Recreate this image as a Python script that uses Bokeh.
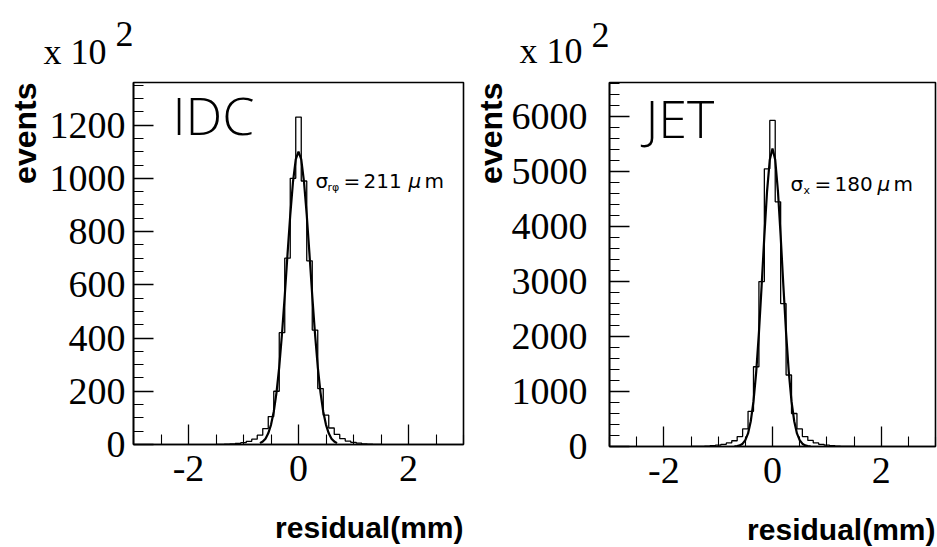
from bokeh.plotting import figure
from bokeh.layouts import row
from bokeh.models import Range1d, FixedTicker, Label, Title
from bokeh.embed import file_html
from bokeh.resources import INLINE

# ---------------- data ----------------
bin_centers = [-1.5, -1.4, -1.3, -1.2, -1.1, -1.0, -0.9, -0.8, -0.7, -0.6, -0.5,
               -0.4, -0.3, -0.2, -0.1, 0.0, 0.1, 0.2, 0.3, 0.4, 0.5,
               0.6, 0.7, 0.8, 0.9, 1.0, 1.1, 1.2, 1.3, 1.4, 1.5]
idc_counts = [0, 0, 1, 2, 4, 7, 12, 20, 35, 60, 105,
              200, 420, 700, 1000, 1230, 990, 690, 430, 210, 110,
              62, 38, 22, 13, 8, 5, 2, 1, 0, 0]
jet_counts = [0, 0, 3, 8, 15, 25, 40, 65, 105, 180, 320,
              640, 1450, 3000, 5050, 5930, 4450, 2600, 1300, 600, 320,
              180, 110, 65, 40, 25, 15, 8, 3, 0, 0]

fit_x = [-0.7, -0.65, -0.6, -0.55, -0.5, -0.45, -0.4, -0.35, -0.3, -0.25, -0.2,
         -0.15, -0.1, -0.05, 0.0, 0.05, 0.1, 0.15, 0.2, 0.25, 0.3, 0.35, 0.4,
         0.45, 0.5, 0.55, 0.6, 0.65, 0.7]
idc_fit = [5, 11, 22, 42, 74, 123, 195, 292, 416, 559, 714, 862, 987, 1071, 1100,
           1071, 987, 862, 714, 559, 416, 292, 195, 123, 74, 42, 22, 11, 5]
jet_fit = [3, 8, 21, 51, 115, 238, 459, 819, 1352, 2066, 2924, 3830, 4646, 5215, 5420,
           5215, 4646, 3830, 2924, 2066, 1352, 819, 459, 238, 115, 51, 21, 8, 3]

x_major = [-2, 0, 2]
x_minor = [-3, -2.5, -1.5, -1, -0.5, 0.5, 1, 1.5, 2.5, 3]
idc_y_major = [0, 200, 400, 600, 800, 1000, 1200]
idc_y_minor = list(range(0, 1400, 50))
jet_y_major = [0, 1000, 2000, 3000, 4000, 5000, 6000]
jet_y_minor = list(range(0, 6700, 200))

detector_names = ["IDC", "JET"]
sigma_subscripts = ["r\u03c6", "x"]
sigma_values = ["211", "180"]
x_title = "residual(mm)"
y_title = "events"
scale_text = "x 10"
scale_exp = "2"

SERIF = "Liberation Serif"
SANS = "Liberation Sans"
NOTE = "DejaVu Sans"
THIN = "'Open Sans Light', 'Inter Light', 'Noto Sans Light', 'Lato Hairline', Lato"


def make_panel(offset, fl, fw, ft, fh, ymax, y_major, y_minor, counts, fit,
               y_standoff, name, sub, sval, pos):
    x0, x1 = -3.0, 3.0
    y0, y1 = 0.0, ymax
    p = figure(output_backend="svg", toolbar_location=None,
               x_range=Range1d(x0, x1), y_range=Range1d(y0, y1),
               frame_width=fw, frame_height=fh,
               min_border_left=fl, min_border_right=pos["right"],
               min_border_top=ft, min_border_bottom=547 - ft - fh)
    p.grid.visible = False
    p.background_fill_color = "white"
    p.border_fill_color = "white"
    p.outline_line_color = "black"
    p.outline_line_width = 1.6

    for ax in (p.xaxis[0], p.yaxis[0]):
        ax.axis_line_color = "black"
        ax.axis_line_width = 1.6
        ax.major_tick_in = 20
        ax.major_tick_out = 0
        ax.minor_tick_in = 10
        ax.minor_tick_out = 0
        ax.major_tick_line_width = 1.3
        ax.minor_tick_line_width = 1.1
        ax.major_tick_line_color = "black"
        ax.minor_tick_line_color = "black"
        ax.major_label_text_font = SERIF
        ax.major_label_text_font_size = "38px"
        ax.major_label_text_color = "black"

    p.xaxis[0].ticker = FixedTicker(ticks=x_major, minor_ticks=x_minor)
    p.xaxis[0].major_label_overrides = {-2: "-2", 0: "0", 2: "2"}
    p.yaxis[0].ticker = FixedTicker(ticks=y_major, minor_ticks=y_minor)
    p.xaxis[0].major_label_standoff = 11
    p.yaxis[0].major_label_standoff = y_standoff

    p.step(bin_centers, counts, mode="center", line_color="black", line_width=1.3)
    p.line(fit_x, fit, line_color="black", line_width=2.2)

    # scale factor "x 10^2" above the frame (exponent on a raised first line)
    t = p.title
    t.text = "\u00a0" * 8 + scale_exp + "\n" + scale_text
    t.align = "left"
    t.offset = pos["scale_off"]
    t.text_font = SERIF
    t.text_font_size = "36px"
    t.text_font_style = "normal"
    t.text_color = "black"
    t.text_line_height = pos["scale_lh"]
    t.standoff = pos["scale_standoff"]

    # axis titles
    p.add_layout(Title(text=y_title, align="right", text_font=SANS, text_font_size="32px",
                       text_font_style="bold", text_color="black",
                       standoff=pos["ytitle_standoff"]), "left")
    # small blank gap between the tick labels and the x title
    p.add_layout(Title(text="\u00a0", text_font=SANS, text_font_size="21px",
                       text_color="white", standoff=0), "below")
    p.add_layout(Title(text=x_title, align="right", text_font=SANS, text_font_size="30px",
                       text_font_style="bold", text_color="black", standoff=0), "below")

    fb = ft + fh

    def D(X, Y):
        x = x0 + (X - offset - fl) / fw * (x1 - x0)
        y = y0 + (fb - Y) / fh * (y1 - y0)
        return x, y

    def lab(text, X, Y, font, size, style="normal"):
        x, y = D(X, Y)
        p.add_layout(Label(x=x, y=y, x_units="data", y_units="data", text=text,
                           text_font=font, text_font_size=size, text_font_style=style,
                           text_align="left", text_baseline="alphabetic",
                           text_color="black"))

    lab(name, pos["nx"], 114, THIN, "52px")
    lab("\u03c3", pos["s0"], 180, NOTE, "20px")
    lab(sub, pos["s1"], 187, NOTE, "11px")
    lab("=", pos["s2"], 180, NOTE, "20px")
    lab(sval, pos["s3"], 180, NOTE, "20px")
    lab("\u00b5", pos["s4"], 180, NOTE, "20px", style="italic")
    lab("m", pos["s5"], 180, NOTE, "20px")
    return p


p1 = make_panel(0, 133, 330, 82, 362, 1360, idc_y_major, idc_y_minor, idc_counts, idc_fit,
                8, detector_names[0], sigma_subscripts[0], sigma_values[0],
                dict(right=7, scale_off=-90, scale_standoff=20, scale_lh=0.47,
                     ytitle_standoff=8, nx=172,
                     s0=315, s1=327, s2=343, s3=363, s4=408, s5=424))
p2 = make_panel(470, 137, 326, 79, 364, 6620, jet_y_major, jet_y_minor, jet_counts, jet_fit,
                22, detector_names[1], sigma_subscripts[1], sigma_values[1],
                dict(right=4, scale_off=-90, scale_standoff=22, scale_lh=0.42,
                     ytitle_standoff=0, nx=643,
                     s0=788, s1=801, s2=812, s3=832, s4=875, s5=891))

layout = row(p1, p2)
open("out.html", "w").write(file_html(layout, INLINE))
